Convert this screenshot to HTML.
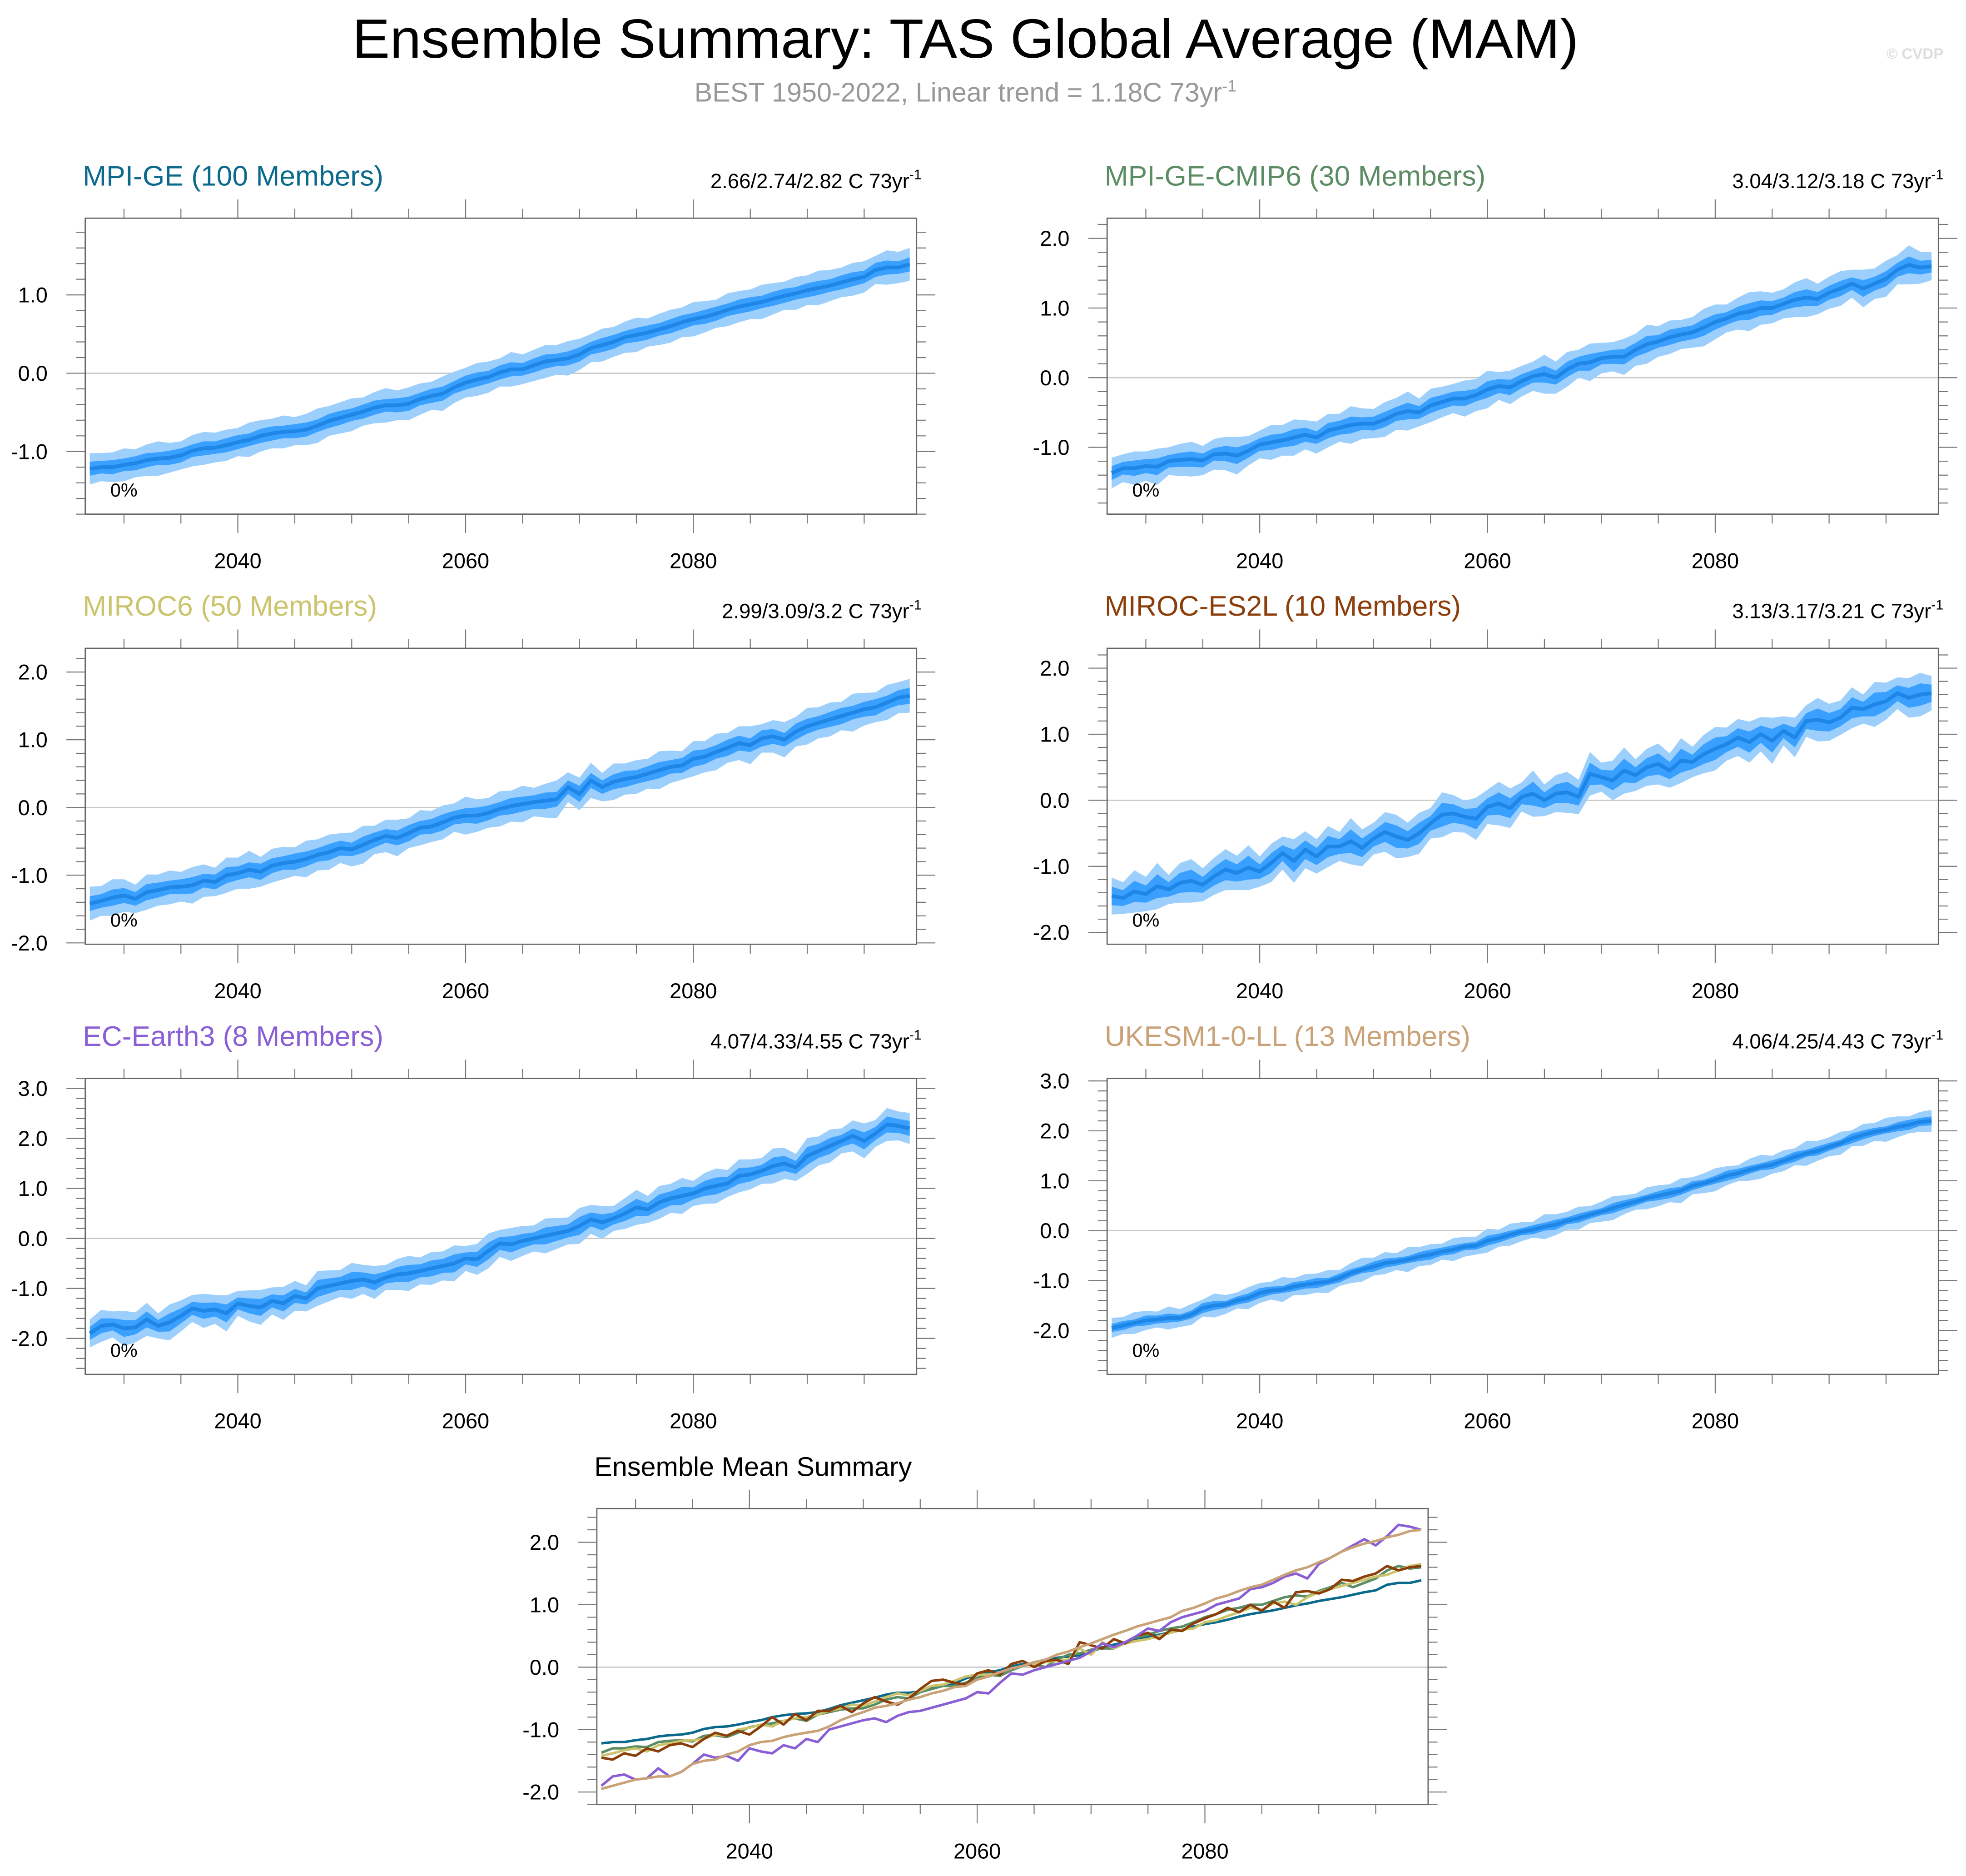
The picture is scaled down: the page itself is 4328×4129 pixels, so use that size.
<!DOCTYPE html>
<html><head><meta charset="utf-8"><style>
html,body{margin:0;padding:0;background:#fff}
svg{display:block}
text{font-family:"Liberation Sans",Arial,sans-serif}
</style></head><body>
<svg id="chart" xmlns="http://www.w3.org/2000/svg" width="4328" height="4129" viewBox="0 0 1568 1496" preserveAspectRatio="none">
<rect x="0" y="0" width="1568" height="1496" fill="#fff"/>
<text x="770" y="46" font-size="44" text-anchor="middle" textLength="978" lengthAdjust="spacingAndGlyphs">Ensemble Summary: TAS Global Average (MAM)</text>
<text x="770" y="81" font-size="21.5" fill="#999" text-anchor="middle">BEST 1950-2022, Linear trend = 1.18C 73yr<tspan dy="-8" font-size="13">-1</tspan></text>
<text x="1550" y="47" font-size="12" fill="#ddd" text-anchor="end" font-weight="bold">© CVDP</text>
<g id="panels"></g>
</svg>
<script>
const years = Array.from({length:73},(_,i)=>2027+i);
const xTickLabels = ["2040","2060","2080"];
const names = ["MPI-GE","MPI-GE-CMIP6","MIROC6","MIROC-ES2L","EC-Earth3","UKESM1-0-LL"];
const members = [100,30,50,10,8,13];
const trends = ["2.66/2.74/2.82","3.04/3.12/3.18","2.99/3.09/3.2","3.13/3.17/3.21","4.07/4.33/4.55","4.06/4.25/4.43"];
const pctLabels = ["0%","0%","0%","0%","0%","0%"];
const meanMPIGE = [-1.22,-1.20,-1.20,-1.17,-1.15,-1.11,-1.09,-1.08,-1.05,-0.99,
-0.96,-0.95,-0.92,-0.88,-0.85,-0.80,-0.77,-0.75,-0.74,-0.72,
-0.67,-0.61,-0.57,-0.53,-0.49,-0.44,-0.41,-0.41,-0.39,-0.33,
-0.29,-0.26,-0.18,-0.12,-0.08,-0.05,0.01,0.05,0.05,0.10,
0.15,0.17,0.19,0.24,0.32,0.36,0.40,0.46,0.49,0.52,
0.56,0.60,0.65,0.69,0.72,0.76,0.81,0.85,0.88,0.91,
0.95,0.99,1.02,1.06,1.09,1.12,1.16,1.20,1.23,1.32,
1.35,1.35,1.39];
const meanCMIP6 = [-1.37,-1.30,-1.30,-1.27,-1.28,-1.20,-1.18,-1.17,-1.19,-1.10,
-1.09,-1.12,-1.05,-0.96,-0.93,-0.90,-0.86,-0.82,-0.86,-0.76,
-0.72,-0.68,-0.66,-0.66,-0.60,-0.52,-0.48,-0.50,-0.40,-0.35,
-0.30,-0.30,-0.25,-0.17,-0.12,-0.14,-0.05,0.02,0.05,0.00,
0.12,0.20,0.22,0.28,0.30,0.30,0.40,0.48,0.52,0.58,
0.62,0.65,0.72,0.80,0.85,0.92,0.95,1.00,1.00,1.06,
1.12,1.15,1.13,1.22,1.28,1.35,1.28,1.35,1.42,1.55,
1.62,1.58,1.60];
const meanMIROC6 = [-1.42,-1.38,-1.33,-1.30,-1.35,-1.25,-1.22,-1.18,-1.17,-1.15,
-1.08,-1.10,-1.00,-0.97,-0.92,-0.95,-0.86,-0.82,-0.80,-0.76,
-0.70,-0.66,-0.60,-0.62,-0.55,-0.48,-0.42,-0.45,-0.38,-0.30,
-0.28,-0.22,-0.15,-0.12,-0.12,-0.08,-0.02,0.02,0.05,0.08,
0.10,0.12,0.30,0.20,0.40,0.30,0.38,0.42,0.45,0.50,
0.55,0.60,0.62,0.72,0.75,0.82,0.88,0.95,0.92,1.02,
1.05,1.00,1.12,1.20,1.25,1.30,1.35,1.40,1.45,1.48,
1.55,1.62,1.65];
const meanES2L = [-1.45,-1.48,-1.38,-1.42,-1.30,-1.35,-1.25,-1.22,-1.28,-1.15,
-1.05,-1.10,-1.02,-1.08,-0.95,-0.80,-0.92,-0.75,-0.85,-0.70,
-0.70,-0.62,-0.72,-0.58,-0.48,-0.55,-0.60,-0.50,-0.35,-0.22,
-0.20,-0.25,-0.28,-0.10,-0.05,-0.12,0.05,0.10,0.00,0.10,
0.12,0.05,0.40,0.35,0.30,0.45,0.38,0.50,0.55,0.45,
0.60,0.58,0.70,0.78,0.85,0.95,0.88,1.00,0.90,1.05,
0.95,1.20,1.22,1.18,1.25,1.40,1.38,1.45,1.50,1.62,
1.55,1.60,1.62];
const meanECE3 = [-1.90,-1.75,-1.72,-1.80,-1.78,-1.62,-1.75,-1.68,-1.55,-1.40,
-1.45,-1.42,-1.50,-1.30,-1.35,-1.38,-1.25,-1.30,-1.15,-1.20,
-1.00,-0.95,-0.90,-0.85,-0.82,-0.88,-0.78,-0.72,-0.70,-0.65,
-0.60,-0.55,-0.50,-0.40,-0.42,-0.25,-0.10,-0.12,-0.05,0.00,
0.05,0.10,0.15,0.25,0.38,0.32,0.40,0.50,0.62,0.58,
0.72,0.80,0.85,0.90,1.00,1.05,1.10,1.25,1.28,1.35,
1.45,1.50,1.42,1.65,1.75,1.85,1.95,2.05,1.95,2.10,
2.28,2.25,2.20];
const meanUKESM = [-1.95,-1.90,-1.85,-1.80,-1.78,-1.75,-1.75,-1.68,-1.55,-1.50,
-1.48,-1.40,-1.35,-1.25,-1.20,-1.18,-1.12,-1.08,-1.05,-1.02,
-0.95,-0.85,-0.78,-0.72,-0.65,-0.62,-0.58,-0.52,-0.48,-0.42,
-0.38,-0.32,-0.30,-0.20,-0.15,-0.08,-0.02,0.02,0.08,0.12,
0.20,0.25,0.32,0.38,0.45,0.52,0.58,0.65,0.70,0.75,
0.80,0.90,0.95,1.02,1.10,1.15,1.22,1.28,1.32,1.40,
1.48,1.55,1.60,1.68,1.75,1.85,1.92,1.98,2.02,2.08,
2.12,2.18,2.20];
// band half-widths, in hundredths of a degree
const innerMPIGE = [9,8,9,8,9,9,8,9,9,8,9,8,9,9,8,9,9,8,9,9,8,9,9,8,9,9,8,9,9,8,9,9,8,9,9,8,9,9,8,9,9,8,9,9,8,9,9,8,9,9,8,9,9,8,9,9,8,9,9,8,9,9,8,9,9,8,9,9,8,9,9,8,9];
const outerMPIGE = [20,18,19,21,18,20,22,19,18,20,21,19,20,18,22,20,19,21,18,20,22,19,20,21,18,20,22,19,21,20,18,22,20,19,21,20,18,22,19,20,21,19,22,20,18,21,19,20,22,18,20,21,19,22,20,18,21,20,19,22,20,18,21,19,22,20,19,21,20,18,22,20,21];
const innerCMIP6 = [10,9,11,10,12,9,10,11,10,9,11,12,10,9,11,10,12,10,9,11,10,12,9,10,11,10,12,9,11,10,10,11,9,12,10,11,10,9,12,10,11,10,12,9,10,11,10,12,9,11,10,10,12,11,9,10,12,11,10,9,11,12,10,10,11,9,12,10,11,10,12,10,9];
const outerCMIP6 = [22,20,24,21,26,20,23,25,21,22,24,27,21,20,25,22,26,21,23,24,20,27,22,21,25,23,28,20,24,22,21,26,23,27,20,24,22,21,28,23,25,20,27,22,21,26,23,28,22,24,21,22,27,25,20,23,28,24,22,21,25,28,22,23,25,20,27,22,26,21,28,23,20];
const innerMIROC6 = [11,10,12,11,10,12,11,10,11,12,10,11,12,10,11,12,11,10,12,11,10,12,11,10,12,11,10,11,12,10,11,12,10,11,12,11,10,12,11,10,12,11,10,12,11,10,11,12,10,11,12,10,11,12,11,10,12,11,10,12,11,10,12,11,10,11,12,10,11,12,10,11,12];
const outerMIROC6 = [25,22,27,24,21,26,23,25,22,27,24,21,26,23,28,22,25,24,21,27,23,26,22,25,28,21,24,27,22,26,23,25,21,28,24,22,26,23,27,21,25,28,22,24,26,21,27,23,25,22,28,24,21,26,23,27,22,25,28,21,24,26,22,27,23,25,21,28,24,22,26,23,25];
const innerES2L = [14,12,16,13,18,11,15,17,12,14,16,13,18,11,15,12,17,14,13,16,11,18,14,12,15,17,13,16,11,18,14,12,16,13,17,15,11,18,12,14,16,13,17,11,15,18,12,14,16,13,18,11,15,17,12,14,16,13,18,11,15,12,17,14,13,16,11,18,14,12,15,17,13];
const outerES2L = [28,24,32,26,35,22,30,33,25,28,31,26,34,23,29,25,33,28,26,31,22,35,28,24,30,33,26,31,23,34,28,24,32,26,33,30,22,35,24,28,31,26,33,22,30,35,24,28,31,26,34,23,29,33,25,28,31,26,35,22,30,24,33,28,26,31,22,34,28,24,30,33,26];
const innerECE3 = [13,15,12,17,14,16,12,18,15,13,16,14,18,12,15,17,13,16,14,12,17,15,13,18,14,16,12,15,17,13,16,14,18,12,15,17,13,16,14,12,17,15,13,18,14,16,12,15,17,13,16,14,18,12,15,17,13,16,14,12,17,15,13,18,14,16,12,15,17,13,16,14,15];
const outerECE3 = [28,32,26,35,30,33,25,36,31,27,34,29,36,25,31,35,27,33,30,26,35,31,27,36,29,33,25,31,35,27,33,29,36,25,31,35,27,33,30,26,35,31,27,36,29,33,25,31,35,27,33,29,36,25,31,35,27,33,30,26,35,31,27,36,29,33,25,31,35,27,33,29,31];
const innerUKESM = [8,9,7,10,8,9,7,8,10,9,7,8,9,10,8,7,9,8,10,7,9,8,7,10,9,8,7,9,10,8,9,7,8,10,9,8,7,9,8,10,7,9,8,7,10,9,8,7,9,10,8,9,7,8,10,9,8,7,9,8,10,7,9,8,7,10,9,8,7,9,10,8,9];
const outerUKESM = [20,17,22,19,16,23,18,21,17,24,19,16,22,20,18,25,17,21,19,23,16,20,24,18,22,17,25,19,21,16,23,20,18,24,17,22,19,16,25,21,18,23,17,20,24,19,16,22,21,18,25,17,20,23,19,16,22,24,18,21,17,25,20,19,23,16,22,18,24,21,17,20,22];
const seriesMeans = [meanMPIGE,meanCMIP6,meanMIROC6,meanES2L,meanECE3,meanUKESM];
const seriesInner = [innerMPIGE,innerCMIP6,innerMIROC6,innerES2L,innerECE3,innerUKESM];
const seriesOuter = [outerMPIGE,outerCMIP6,outerMIROC6,outerES2L,outerECE3,outerUKESM];
const colors = ["#0b6a8c","#5b8c63","#cbc46c","#8b3d0a","#8a5fd6","#c9a278"];
const yTickSets = [[-1,0,1],[-1,0,1,2],[-2,-1,0,1,2],[-2,-1,0,1,2],[-2,-1,0,1,2,3],[-2,-1,0,1,2,3],[-2,-1,0,1,2]];
const yRanges = [[-1.8,1.98],[-1.96,2.29],[-2.02,2.35],[-2.18,2.3],[-2.72,3.2],[-2.88,3.05],[-2.2,2.54]];

const NS="http://www.w3.org/2000/svg";
const root=document.getElementById('panels');
function mk(tag,attrs,parent){const e=document.createElementNS(NS,tag);for(const k in attrs)e.setAttribute(k,attrs[k]);(parent||root).appendChild(e);return e;}
const frames=[[68,174],[883,174],[68,517],[883,517],[68,860],[883,860],[476,1203]];
const FW=663,FH=236;

function drawAxes(g,p,fx,fy){
  const [y0,y1]=yRanges[p];
  const X=yr=>fx+(yr-2026.6)/73*FW;
  const Y=v=>fy+FH-(v-y0)/(y1-y0)*FH;
  const z=mk('line',{x1:fx,x2:fx+FW,y1:Y(0),y2:Y(0),stroke:'#c8c8c8','stroke-width':1},g);
  
  
  for(let v=Math.ceil(y0*5)/5; v<=y1+1e-9; v+=0.2){
    const vv=Math.round(v*10)/10;const major=Math.abs(vv-Math.round(vv))<1e-6;
    const L=major?15:7.5;
    mk('line',{x1:fx-L,x2:fx,y1:Y(vv),y2:Y(vv),stroke:'#777','stroke-width':0.8},g);
    mk('line',{x1:fx+FW,x2:fx+FW+L,y1:Y(vv),y2:Y(vv),stroke:'#777','stroke-width':0.8},g);
  }
  yTickSets[p].forEach(v=>{
    const t=mk('text',{x:fx-30,y:Y(v)+6,'font-size':17,'text-anchor':'end'},g);
    t.textContent=v.toFixed(1);
    
    
  });
  for(let yr=2030;yr<=2095;yr+=5){
    const major=yr%20===0;const L=major?15:7.5;
    mk('line',{x1:X(yr),x2:X(yr),y1:fy-L,y2:fy,stroke:'#777','stroke-width':0.8},g);
    mk('line',{x1:X(yr),x2:X(yr),y1:fy+FH,y2:fy+FH+L,stroke:'#777','stroke-width':0.8},g);
  }
  xTickLabels.forEach(s=>{
    const t=mk('text',{x:X(+s),y:fy+FH+43,'font-size':17,'text-anchor':'middle'},g);
    t.textContent=s;
    
    
  });
  return {X,Y};
}
function path(pts){return pts.map((q,i)=>(i?'L':'M')+q[0].toFixed(2)+','+q[1].toFixed(2)).join('');}

for(let p=0;p<6;p++){
  const [fx,fy]=frames[p];
  const g=mk('g',{});
  
  
  const t=mk('text',{x:fx-2,y:fy-26,'font-size':22.6,fill:colors[p]},g);
  t.textContent=names[p]+' ('+members[p]+' Members)';
  
  
  const tr=mk('text',{x:fx+FW+4,y:fy-24,'font-size':16.5,'text-anchor':'end'},g);
  tr.innerHTML=trends[p]+' C 73yr<tspan dy="-7" font-size="11">-1</tspan>';
  
  
  const {X,Y}=drawAxes(g,p,fx,fy);
  const m=seriesMeans[p],inn=seriesInner[p],out=seriesOuter[p];
  const band=(w,fill,nm)=>{
    const up=years.map((yr,i)=>[X(yr),Y(m[i]+w[i]/100)]);
    const dn=years.map((yr,i)=>[X(yr),Y(m[i]-w[i]/100)]).reverse();
    const e=mk('path',{d:path(up.concat(dn))+'Z',fill:fill},g);
    
    
  };
  band(out,'#9dcffd','outer-spread-band');
  band(inn,'#3aa0ff','inner-spread-band');
  const ln=mk('path',{d:path(years.map((yr,i)=>[X(yr),Y(m[i])])),fill:'none',stroke:'#1e86e6','stroke-width':3,'stroke-linejoin':'round'},g);
  
  
  mk('rect',{x:fx,y:fy,width:FW,height:FH,fill:'none',stroke:'#666','stroke-width':1},g);
  const pc=mk('text',{x:fx+20,y:fy+FH-14,'font-size':15},g);
  pc.textContent=pctLabels[p];
  
  
}
{
  const [fx,fy]=frames[6];
  const g=mk('g',{});
  
  
  const t=mk('text',{x:fx-2,y:fy-26,'font-size':21.5},g);
  t.textContent='Ensemble Mean Summary';
  
  
  const {X,Y}=drawAxes(g,6,fx,fy);
  seriesMeans.forEach((m,k)=>{
    const ln=mk('path',{d:path(years.map((yr,i)=>[X(yr),Y(m[i])])),fill:'none',stroke:colors[k],'stroke-width':2,'stroke-linejoin':'round'},g);
    
    
  });
  mk('rect',{x:fx,y:fy,width:FW,height:FH,fill:'none',stroke:'#666','stroke-width':1},g);
}
</script>
</body></html>
